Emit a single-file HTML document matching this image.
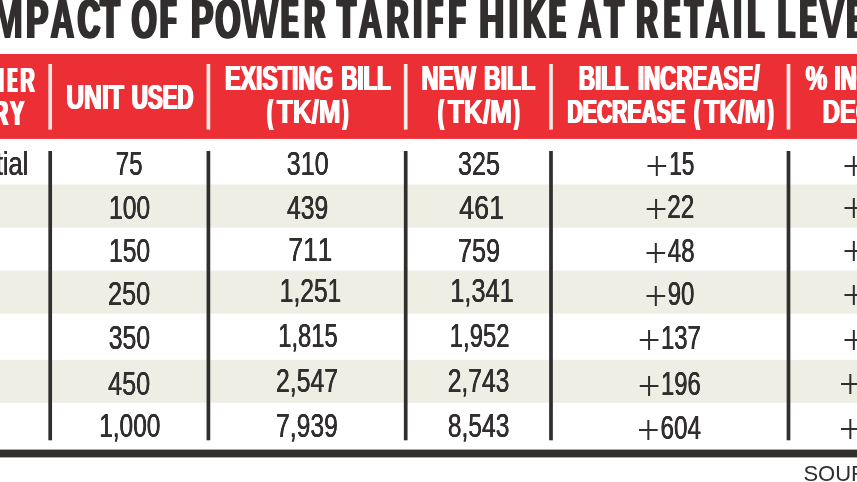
<!DOCTYPE html>
<html lang="en"><head><meta charset="utf-8"><title>Impact of power tariff hike at retail level</title>
<style>
html,body{margin:0;padding:0;background:#fff;}
body{width:857px;height:482px;overflow:hidden;}
svg{display:block;font-family:"Liberation Sans",sans-serif;font-kerning:none;}
text{white-space:pre;}
.ttl{font-weight:bold;fill:#302e2f;}
.ttl tspan{text-shadow:var(--d) 0 0 #302e2f,calc(var(--d)*-1) 0 0 #302e2f;}
.hdr{font-weight:bold;fill:#fff;}
.hdr tspan{text-shadow:var(--d) 0 0 #fff,calc(var(--d)*-1) 0 0 #fff;}
.bod{fill:#302e2f;}
.bod tspan{text-shadow:var(--d) 0 0 #302e2f,calc(var(--d)*-1) 0 0 #302e2f;}
.pl{font-family:"Liberation Serif",serif;fill:#302e2f;}
.src{fill:#302e2f;}
</style></head><body>
<svg width="857" height="482" viewBox="0 0 857 482">
<defs><filter id="soft" filterUnits="userSpaceOnUse" x="-20" y="-20" width="897" height="522"><feGaussianBlur stdDeviation="0.45"/></filter></defs>
<g filter="url(#soft)">
<rect x="-20" y="-20" width="897" height="522" fill="#ffffff"/>
<rect x="-20" y="54" width="897" height="84.9" fill="#ec2d34"/>
<rect x="-20" y="184.4" width="897" height="43.4" fill="#efeee5"/>
<rect x="-20" y="270.6" width="897" height="43.0" fill="#efeee5"/>
<rect x="-20" y="359.8" width="897" height="43.0" fill="#efeee5"/>
<rect x="48.35" y="64" width="3.7" height="65.6" fill="#fde9e7"/>
<rect x="48.35" y="151" width="3.7" height="289.3" fill="#302e2f"/>
<rect x="206.55" y="64" width="3.7" height="65.6" fill="#fde9e7"/>
<rect x="206.55" y="151" width="3.7" height="289.3" fill="#302e2f"/>
<rect x="403.85" y="64" width="3.7" height="65.6" fill="#fde9e7"/>
<rect x="403.85" y="151" width="3.7" height="289.3" fill="#302e2f"/>
<rect x="549.15" y="64" width="3.7" height="65.6" fill="#fde9e7"/>
<rect x="549.15" y="151" width="3.7" height="289.3" fill="#302e2f"/>
<rect x="786.65" y="64" width="3.7" height="65.6" fill="#fde9e7"/>
<rect x="786.65" y="151" width="3.7" height="289.3" fill="#302e2f"/>
<rect x="-20" y="449.6" width="897" height="7.8" fill="#302e2f"/>
<text class="ttl" y="38.0" font-size="56.0"><tspan x="-19.09" textLength="7.78" lengthAdjust="spacingAndGlyphs" style="--d:3.57px">I</tspan><tspan x="-8.23" textLength="31.36" lengthAdjust="spacingAndGlyphs" style="--d:1.17px">M</tspan><tspan x="26.14" textLength="22.13" lengthAdjust="spacingAndGlyphs" style="--d:2.29px">P</tspan><tspan x="50.77" textLength="23.30" lengthAdjust="spacingAndGlyphs" style="--d:2.04px">A</tspan><tspan x="77.75" textLength="22.38" lengthAdjust="spacingAndGlyphs" style="--d:2.74px">C</tspan><tspan x="100.55" textLength="19.09" lengthAdjust="spacingAndGlyphs" style="--d:2.69px">T</tspan> <tspan x="131.60" textLength="25.14" lengthAdjust="spacingAndGlyphs" style="--d:2.46px">O</tspan><tspan x="160.85" textLength="14.96" lengthAdjust="spacingAndGlyphs" style="--d:4.54px">F</tspan> <tspan x="191.04" textLength="22.13" lengthAdjust="spacingAndGlyphs" style="--d:2.29px">P</tspan><tspan x="215.30" textLength="25.14" lengthAdjust="spacingAndGlyphs" style="--d:2.46px">O</tspan><tspan x="241.55" textLength="36.91" lengthAdjust="spacingAndGlyphs" style="--d:0.69px">W</tspan><tspan x="281.82" textLength="16.00" lengthAdjust="spacingAndGlyphs" style="--d:4.72px">E</tspan><tspan x="304.42" textLength="20.46" lengthAdjust="spacingAndGlyphs" style="--d:3.38px">R</tspan> <tspan x="337.46" textLength="18.26" lengthAdjust="spacingAndGlyphs" style="--d:2.99px">T</tspan><tspan x="358.93" textLength="22.89" lengthAdjust="spacingAndGlyphs" style="--d:2.15px">A</tspan><tspan x="386.92" textLength="21.49" lengthAdjust="spacingAndGlyphs" style="--d:3.03px">R</tspan><tspan x="413.66" textLength="7.78" lengthAdjust="spacingAndGlyphs" style="--d:3.47px">I</tspan><tspan x="428.25" textLength="13.62" lengthAdjust="spacingAndGlyphs" style="--d:5.39px">F</tspan><tspan x="449.02" textLength="15.97" lengthAdjust="spacingAndGlyphs" style="--d:4.00px">F</tspan> <tspan x="479.39" textLength="24.73" lengthAdjust="spacingAndGlyphs" style="--d:2.10px">H</tspan><tspan x="509.51" textLength="7.78" lengthAdjust="spacingAndGlyphs" style="--d:3.57px">I</tspan><tspan x="523.24" textLength="22.16" lengthAdjust="spacingAndGlyphs" style="--d:2.54px">K</tspan><tspan x="549.99" textLength="14.72" lengthAdjust="spacingAndGlyphs" style="--d:5.49px">E</tspan> <tspan x="578.09" textLength="23.17" lengthAdjust="spacingAndGlyphs" style="--d:2.08px">A</tspan><tspan x="604.63" textLength="19.23" lengthAdjust="spacingAndGlyphs" style="--d:2.64px">T</tspan> <tspan x="636.63" textLength="20.90" lengthAdjust="spacingAndGlyphs" style="--d:3.22px">R</tspan><tspan x="665.09" textLength="14.24" lengthAdjust="spacingAndGlyphs" style="--d:5.81px">E</tspan><tspan x="685.17" textLength="17.44" lengthAdjust="spacingAndGlyphs" style="--d:3.32px">T</tspan><tspan x="705.57" textLength="23.30" lengthAdjust="spacingAndGlyphs" style="--d:2.04px">A</tspan><tspan x="733.76" textLength="7.78" lengthAdjust="spacingAndGlyphs" style="--d:2.87px">I</tspan><tspan x="748.25" textLength="15.39" lengthAdjust="spacingAndGlyphs" style="--d:4.30px">L</tspan> <tspan x="778.30" textLength="16.05" lengthAdjust="spacingAndGlyphs" style="--d:3.96px">L</tspan><tspan x="800.59" textLength="15.20" lengthAdjust="spacingAndGlyphs" style="--d:5.18px">E</tspan><tspan x="819.59" textLength="24.62" lengthAdjust="spacingAndGlyphs" style="--d:1.28px">V</tspan><tspan x="847.59" textLength="15.20" lengthAdjust="spacingAndGlyphs" style="--d:5.18px">E</tspan><tspan x="868.17" textLength="15.72" lengthAdjust="spacingAndGlyphs" style="--d:4.13px">L</tspan></text>
<text class="hdr" y="92.0" font-size="34.3"><tspan x="-91.47" textLength="76.80" lengthAdjust="spacingAndGlyphs" style="--d:1.56px">CONSU</tspan><tspan x="-13.18" textLength="17.26" lengthAdjust="spacingAndGlyphs" style="--d:1.67px">M</tspan><tspan x="8.23" textLength="8.48" lengthAdjust="spacingAndGlyphs" style="--d:4.28px">E</tspan><tspan x="20.48" textLength="14.13" lengthAdjust="spacingAndGlyphs" style="--d:1.91px">R</tspan></text>
<text class="hdr" y="125.3" font-size="34.3"><tspan x="-99.55" textLength="90.97" lengthAdjust="spacingAndGlyphs" style="--d:1.56px">CATEGO</tspan><tspan x="-6.12" textLength="14.13" lengthAdjust="spacingAndGlyphs" style="--d:1.91px">R</tspan><tspan x="10.11" textLength="14.16" lengthAdjust="spacingAndGlyphs" style="--d:1.57px">Y</tspan></text>
<text class="hdr" y="109.3" font-size="34.3"><tspan x="66.23" textLength="57.71" lengthAdjust="spacingAndGlyphs" style="--d:1.00px">UNIT</tspan> <tspan x="131.76" textLength="61.77" lengthAdjust="spacingAndGlyphs" style="--d:1.39px">USED</tspan></text>
<text class="hdr" y="89.8" font-size="34.3"><tspan x="225.19" textLength="107.91" lengthAdjust="spacingAndGlyphs" style="--d:1.24px">EXISTING</tspan> <tspan x="341.31" textLength="49.37" lengthAdjust="spacingAndGlyphs" style="--d:1.39px">BILL</tspan></text>
<text class="hdr" y="123.2" font-size="33.4"><tspan x="267.32" textLength="5.19" lengthAdjust="spacingAndGlyphs" style="--d:2.36px">(</tspan><tspan x="276.93" textLength="63.58" lengthAdjust="spacingAndGlyphs" style="--d:0.80px">TK/M</tspan><tspan x="342.88" textLength="5.19" lengthAdjust="spacingAndGlyphs" style="--d:2.36px">)</tspan></text>
<text class="hdr" y="89.8" font-size="34.3"><tspan x="421.66" textLength="54.34" lengthAdjust="spacingAndGlyphs" style="--d:1.21px">NEW</tspan> <tspan x="484.00" textLength="51.17" lengthAdjust="spacingAndGlyphs" style="--d:1.25px">BILL</tspan></text>
<text class="hdr" y="123.2" font-size="33.4"><tspan x="438.32" textLength="5.19" lengthAdjust="spacingAndGlyphs" style="--d:2.36px">(</tspan><tspan x="447.92" textLength="64.02" lengthAdjust="spacingAndGlyphs" style="--d:0.78px">TK/M</tspan><tspan x="514.28" textLength="5.19" lengthAdjust="spacingAndGlyphs" style="--d:2.36px">)</tspan></text>
<text class="hdr" y="89.8" font-size="34.3"><tspan x="578.89" textLength="49.71" lengthAdjust="spacingAndGlyphs" style="--d:1.36px">BILL</tspan> <tspan x="637.79" textLength="121.73" lengthAdjust="spacingAndGlyphs" style="--d:1.37px">INCREASE/</tspan></text>
<text class="hdr" y="123.2" font-size="33.4"><tspan x="567.46" textLength="117.59" lengthAdjust="spacingAndGlyphs" style="--d:1.54px">DECREASE</tspan> <tspan x="694.32" textLength="5.19" lengthAdjust="spacingAndGlyphs" style="--d:2.36px">(</tspan><tspan x="704.00" textLength="61.60" lengthAdjust="spacingAndGlyphs" style="--d:0.91px">TK/M</tspan><tspan x="768.08" textLength="5.19" lengthAdjust="spacingAndGlyphs" style="--d:2.36px">)</tspan></text>
<text class="hdr" y="89.8" font-size="34.3"><tspan x="805.77" textLength="21.40" lengthAdjust="spacingAndGlyphs" style="--d:1.09px">%</tspan> <tspan x="834.29" textLength="121.73" lengthAdjust="spacingAndGlyphs" style="--d:1.37px">INCREASE/</tspan></text>
<text class="hdr" y="123.2" font-size="33.4"><tspan x="822.68" textLength="132.68" lengthAdjust="spacingAndGlyphs" style="--d:1.09px">DECREASE</tspan></text>
<text class="bod" y="175.4" font-size="34.0"><tspan x="-97.46" textLength="125.78" lengthAdjust="spacingAndGlyphs" style="--d:0.24px">Residential</tspan></text>
<text class="bod" y="175.1" font-size="34.0"><tspan x="115.82" textLength="26.64" lengthAdjust="spacingAndGlyphs" style="--d:0.35px">75</tspan></text>
<text class="bod" y="175.1" font-size="34.0"><tspan x="286.63" textLength="42.06" lengthAdjust="spacingAndGlyphs" style="--d:0.26px">310</tspan></text>
<text class="bod" y="175.4" font-size="34.0"><tspan x="457.93" textLength="42.03" lengthAdjust="spacingAndGlyphs" style="--d:0.26px">325</tspan></text>
<text class="bod" y="218.7" font-size="34.0"><tspan x="108.93" textLength="41.22" lengthAdjust="spacingAndGlyphs" style="--d:0.30px">100</tspan></text>
<text class="bod" y="218.6" font-size="34.0"><tspan x="287.05" textLength="41.21" lengthAdjust="spacingAndGlyphs" style="--d:0.30px">439</tspan></text>
<text class="bod" y="218.7" font-size="34.0"><tspan x="459.20" textLength="45.01" lengthAdjust="spacingAndGlyphs" style="--d:0.14px">461</tspan></text>
<text class="bod" y="261.5" font-size="34.0"><tspan x="108.93" textLength="41.22" lengthAdjust="spacingAndGlyphs" style="--d:0.30px">150</tspan></text>
<text class="bod" y="261.2" font-size="34.0"><tspan x="288.39" textLength="43.95" lengthAdjust="spacingAndGlyphs" style="--d:0.18px">711</tspan></text>
<text class="bod" y="261.5" font-size="34.0"><tspan x="458.00" textLength="42.11" lengthAdjust="spacingAndGlyphs" style="--d:0.26px">759</tspan></text>
<text class="bod" y="304.8" font-size="34.0"><tspan x="108.02" textLength="42.18" lengthAdjust="spacingAndGlyphs" style="--d:0.25px">250</tspan></text>
<text class="bod" y="302.1" font-size="34.0"><tspan x="279.75" textLength="61.54" lengthAdjust="spacingAndGlyphs" style="--d:0.30px">1,251</tspan></text>
<text class="bod" y="302.0" font-size="34.0"><tspan x="450.25" textLength="63.55" lengthAdjust="spacingAndGlyphs" style="--d:0.25px">1,341</tspan></text>
<text class="bod" y="349.2" font-size="34.0"><tspan x="108.76" textLength="41.39" lengthAdjust="spacingAndGlyphs" style="--d:0.29px">350</tspan></text>
<text class="bod" y="346.8" font-size="34.0"><tspan x="278.25" textLength="59.39" lengthAdjust="spacingAndGlyphs" style="--d:0.37px">1,815</tspan></text>
<text class="bod" y="347.2" font-size="34.0"><tspan x="449.84" textLength="59.61" lengthAdjust="spacingAndGlyphs" style="--d:0.36px">1,952</tspan></text>
<text class="bod" y="394.6" font-size="34.0"><tspan x="108.11" textLength="42.08" lengthAdjust="spacingAndGlyphs" style="--d:0.26px">450</tspan></text>
<text class="bod" y="392.3" font-size="34.0"><tspan x="276.07" textLength="61.86" lengthAdjust="spacingAndGlyphs" style="--d:0.29px">2,547</tspan></text>
<text class="bod" y="392.3" font-size="34.0"><tspan x="447.68" textLength="61.69" lengthAdjust="spacingAndGlyphs" style="--d:0.30px">2,743</tspan></text>
<text class="bod" y="437.0" font-size="34.0"><tspan x="99.16" textLength="61.27" lengthAdjust="spacingAndGlyphs" style="--d:0.31px">1,000</tspan></text>
<text class="bod" y="436.5" font-size="34.0"><tspan x="276.05" textLength="61.81" lengthAdjust="spacingAndGlyphs" style="--d:0.30px">7,939</tspan></text>
<text class="bod" y="437.1" font-size="34.0"><tspan x="447.85" textLength="61.51" lengthAdjust="spacingAndGlyphs" style="--d:0.30px">8,543</tspan></text>
<text class="pl" y="179.99" font-size="41.22"><tspan x="645.40" textLength="22.66" lengthAdjust="spacingAndGlyphs">+</tspan></text><text class="bod" y="174.9" font-size="34.0"><tspan x="669.41" textLength="24.92" lengthAdjust="spacingAndGlyphs" style="--d:0.48px">15</tspan></text>
<text class="pl" y="179.99" font-size="41.22"><tspan x="842.40" textLength="22.66" lengthAdjust="spacingAndGlyphs">+</tspan></text>
<text class="pl" y="223.39" font-size="41.22"><tspan x="644.80" textLength="22.66" lengthAdjust="spacingAndGlyphs">+</tspan></text><text class="bod" y="218.3" font-size="34.0"><tspan x="667.30" textLength="27.09" lengthAdjust="spacingAndGlyphs" style="--d:0.32px">22</tspan></text>
<text class="pl" y="222.39" font-size="41.22"><tspan x="842.40" textLength="22.66" lengthAdjust="spacingAndGlyphs">+</tspan></text>
<text class="pl" y="267.09" font-size="41.22"><tspan x="644.60" textLength="22.66" lengthAdjust="spacingAndGlyphs">+</tspan></text><text class="bod" y="262.0" font-size="34.0"><tspan x="667.79" textLength="26.70" lengthAdjust="spacingAndGlyphs" style="--d:0.35px">48</tspan></text>
<text class="pl" y="265.39" font-size="41.22"><tspan x="842.40" textLength="22.66" lengthAdjust="spacingAndGlyphs">+</tspan></text>
<text class="pl" y="310.09" font-size="41.22"><tspan x="644.60" textLength="22.66" lengthAdjust="spacingAndGlyphs">+</tspan></text><text class="bod" y="305.0" font-size="34.0"><tspan x="667.72" textLength="26.67" lengthAdjust="spacingAndGlyphs" style="--d:0.35px">90</tspan></text>
<text class="pl" y="308.59" font-size="41.22"><tspan x="842.40" textLength="22.66" lengthAdjust="spacingAndGlyphs">+</tspan></text>
<text class="pl" y="354.49" font-size="41.22"><tspan x="637.70" textLength="22.66" lengthAdjust="spacingAndGlyphs">+</tspan></text><text class="bod" y="349.4" font-size="34.0"><tspan x="660.93" textLength="39.93" lengthAdjust="spacingAndGlyphs" style="--d:0.35px">137</tspan></text>
<text class="pl" y="353.59" font-size="41.22"><tspan x="842.40" textLength="22.66" lengthAdjust="spacingAndGlyphs">+</tspan></text>
<text class="pl" y="399.69" font-size="41.22"><tspan x="637.70" textLength="22.66" lengthAdjust="spacingAndGlyphs">+</tspan></text><text class="bod" y="394.6" font-size="34.0"><tspan x="660.94" textLength="39.76" lengthAdjust="spacingAndGlyphs" style="--d:0.36px">196</tspan></text>
<text class="pl" y="398.29" font-size="41.22"><tspan x="839.00" textLength="22.66" lengthAdjust="spacingAndGlyphs">+</tspan></text>
<text class="pl" y="444.19" font-size="41.22"><tspan x="637.00" textLength="22.66" lengthAdjust="spacingAndGlyphs">+</tspan></text><text class="bod" y="439.1" font-size="34.0"><tspan x="660.50" textLength="40.47" lengthAdjust="spacingAndGlyphs" style="--d:0.33px">604</tspan></text>
<text class="pl" y="442.99" font-size="41.22"><tspan x="839.00" textLength="22.66" lengthAdjust="spacingAndGlyphs">+</tspan></text>
<text class="src" x="803.4" y="481.2" font-size="22">SOURCE: BERC</text>
</g>
</svg>
</body></html>
